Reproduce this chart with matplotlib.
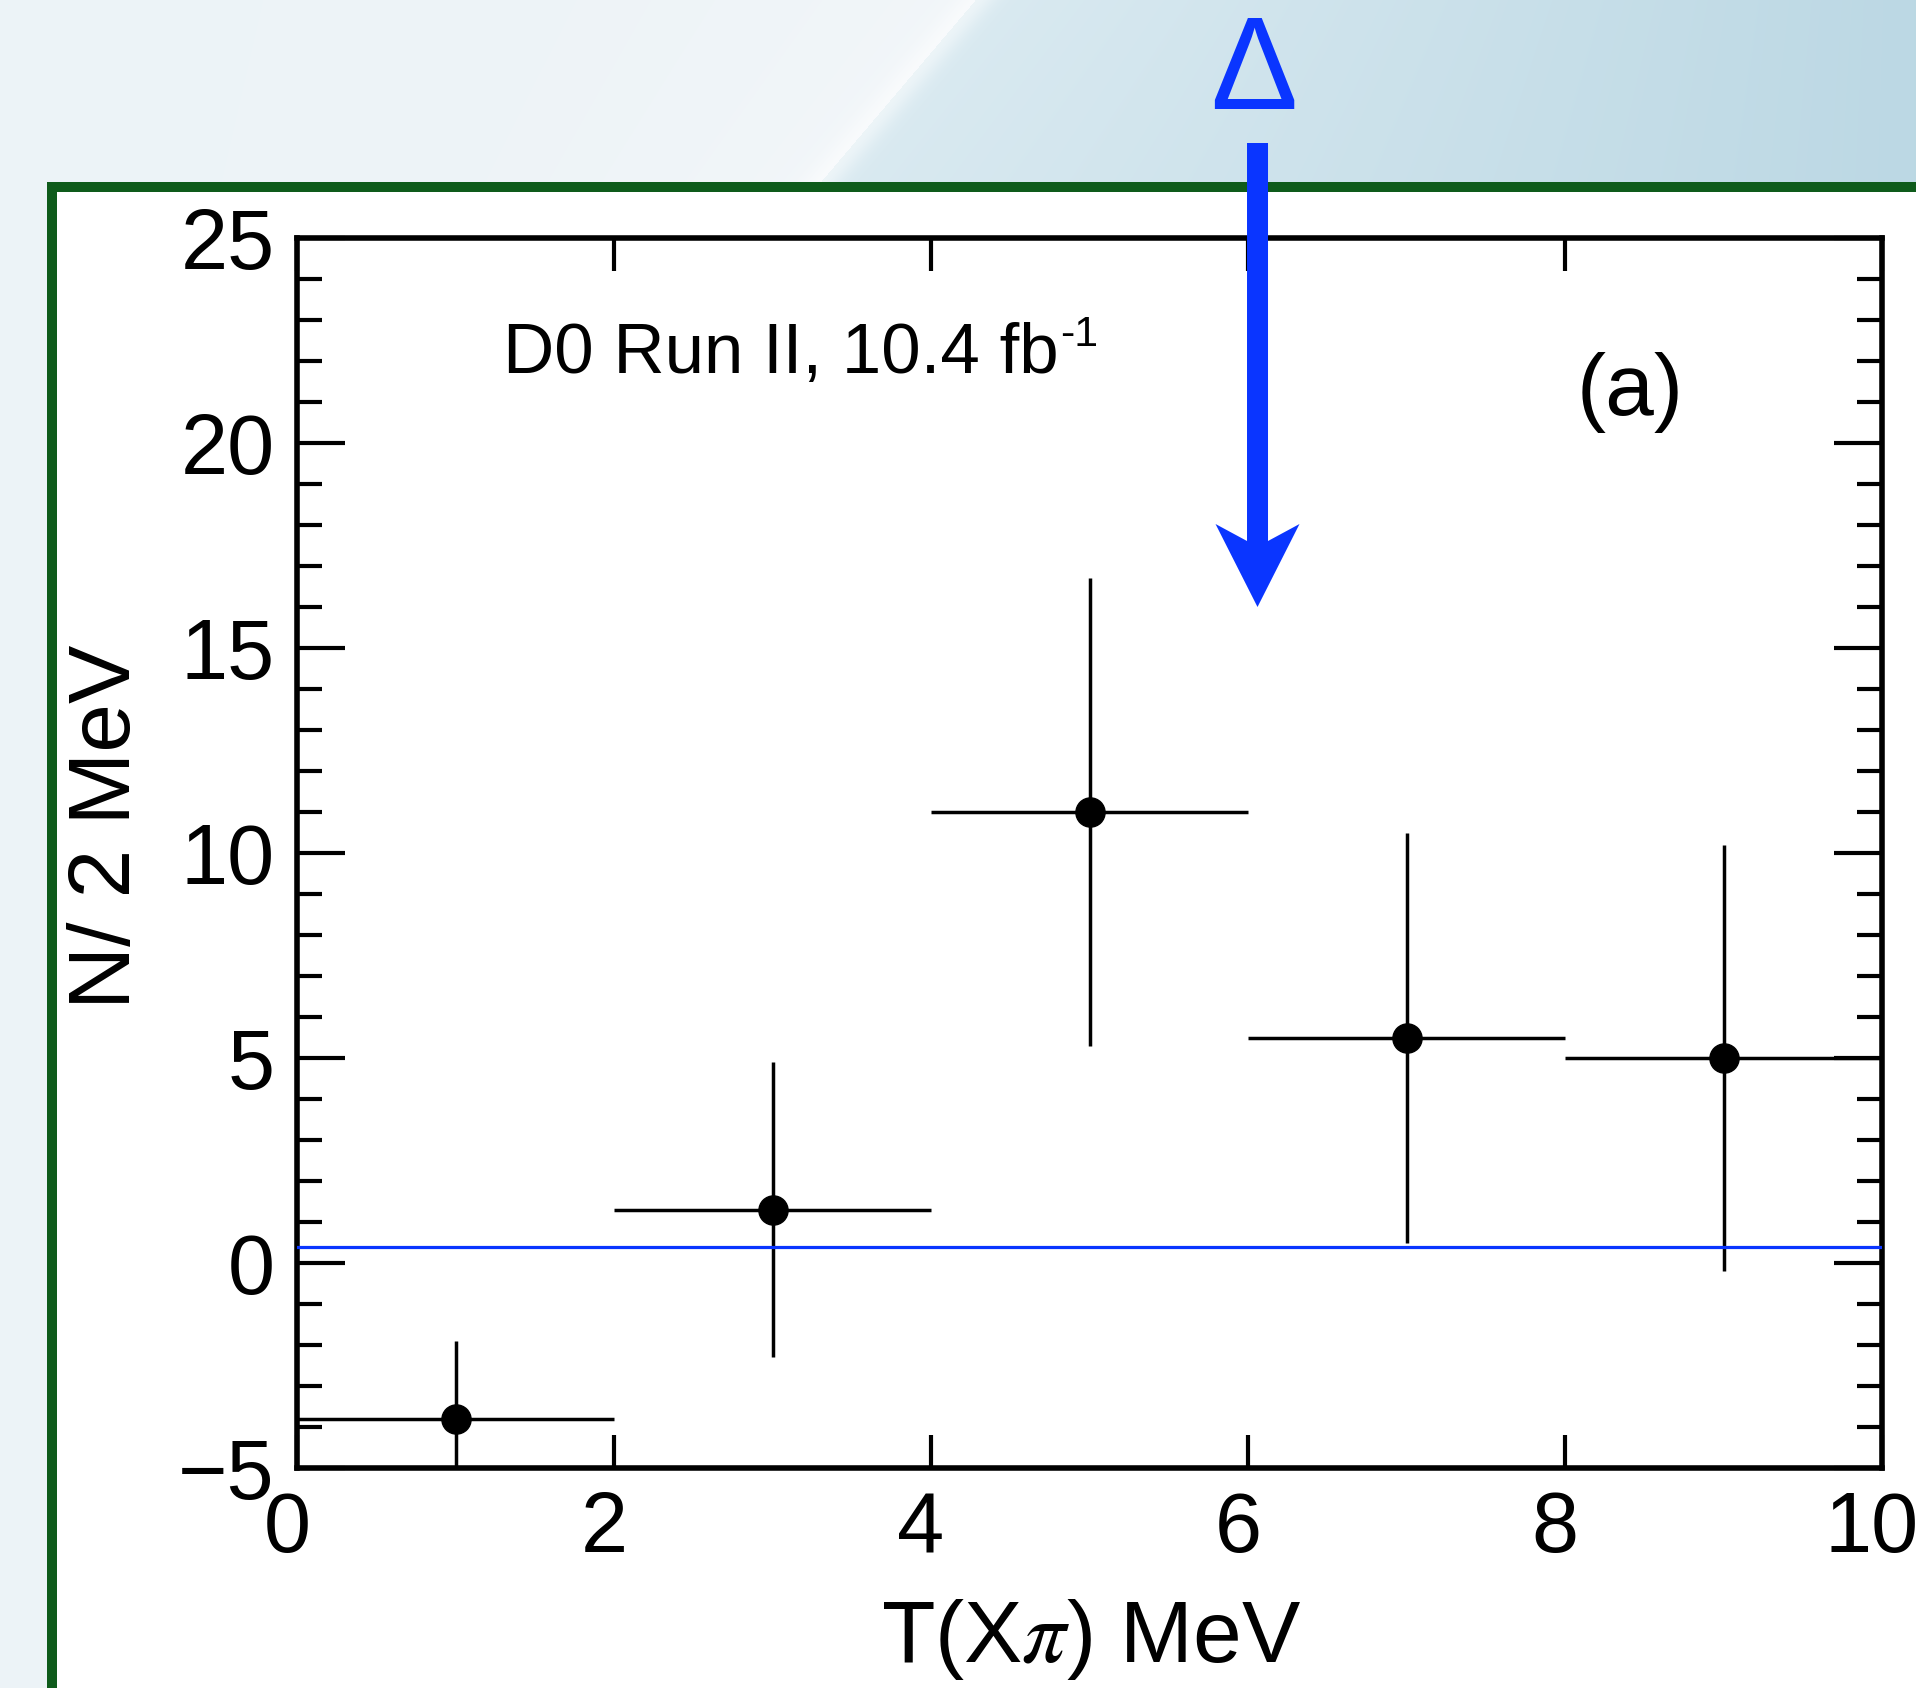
import numpy as np
import matplotlib
matplotlib.use("Agg")
import matplotlib.pyplot as plt
from matplotlib.patches import Rectangle, Polygon
from matplotlib.transforms import IdentityTransform, ScaledTranslation
from matplotlib.ticker import MultipleLocator

plt.rcParams['font.family'] = ['Liberation Sans', 'DejaVu Sans']
plt.rcParams['mathtext.fontset'] = 'custom'
plt.rcParams['mathtext.rm'] = 'Liberation Sans'
plt.rcParams['mathtext.it'] = 'Liberation Sans:italic'
plt.rcParams['mathtext.bf'] = 'Liberation Sans:bold'

# data
t_center = [1, 3, 5, 7, 9]
t_halfwidth = [1, 1, 1, 1, 1]
counts = [-3.8, 1.3, 11.0, 5.5, 5.0]
count_err = [1.9, 3.6, 5.7, 5.0, 5.2]
bkg_level = 0.38
x_range = [0, 10]
y_range = [-5, 25]
arrow_x, arrow_y = 6.06, 16.0

blue = '#0a35ff'
green = '#0e5b1b'

W, H = 1916, 1688
fig = plt.figure(figsize=(W / 100, H / 100), dpi=100)

# slide-like background
bg = fig.add_axes([0, 0, 1, 1], zorder=0)
yy, xx = np.mgrid[0:H, 0:W].astype(float)
xs = 975 - 0.85 * yy
cL = np.array([0.929, 0.953, 0.969])
cL2 = np.array([0.950, 0.966, 0.978])
cS = np.array([0.855, 0.918, 0.945])
cR = np.array([0.737, 0.847, 0.894])
left = (xx < xs) | (yy > 190)
tl = np.clip(xx / np.maximum(xs, 1), 0, 1)[..., None]
tr = np.clip((xx - xs) / (W - xs), 0, 1)[..., None]
img = np.where(left[..., None], cL + (cL2 - cL) * tl ** 3, cS + (cR - cS) * tr)
img = np.where((yy > 190)[..., None], cL, img)
glow = (np.exp(-((xx - xs) / 20.0) ** 2) * (yy < 190))[..., None] * 0.5
img = img + (1 - img) * glow
bg.imshow(np.clip(img, 0, 1), extent=(0, W, H, 0), aspect='auto', interpolation='bilinear')
bg.add_patch(Rectangle((52, 187), 3000, 3000, facecolor='white', edgecolor=green, linewidth=7.2))
bg.set_xlim(0, W)
bg.set_ylim(H, 0)
bg.axis('off')

ax = fig.add_axes([297 / W, (H - 1468) / H, (1882 - 297) / W, (1468 - 238) / H], zorder=1)
ax.errorbar(t_center, counts, xerr=t_halfwidth, yerr=count_err, fmt='o', color='black',
            ms=21, elinewidth=2.5, capsize=0, zorder=2)
ax.axhline(bkg_level, color=blue, lw=2.3, zorder=3)

ax.set_xlim(x_range)
ax.set_ylim(y_range)
ax.xaxis.set_major_locator(MultipleLocator(2))
ax.yaxis.set_major_locator(MultipleLocator(5))
ax.yaxis.set_minor_locator(MultipleLocator(1))
ax.tick_params(which='both', direction='in', top=True, right=True, width=3)
ax.tick_params(axis='y', which='major', length=34.5, pad=16, labelsize=61)
ax.tick_params(axis='y', which='minor', length=18)
ax.tick_params(axis='x', which='major', length=24, pad=16, labelsize=61)
for s in ax.spines.values():
    s.set_linewidth(4)
# ROOT puts the x labels a little left of the ticks
shift = ScaledTranslation(-10 / 100, 0, fig.dpi_scale_trans)
for lab in ax.get_xticklabels():
    lab.set_transform(lab.get_transform() + shift)

lumi = ax.text(0.13, 0.890, 'D0 Run II, 10.4 fb', transform=ax.transAxes,
               fontsize=51, ha='left', va='baseline')
ax.annotate('-1', xy=(1, 1), xycoords=lumi, xytext=(1, 5), textcoords='offset points',
            fontsize=31, ha='left', va='top')
ax.text(0.841, 0.856, '(a)', transform=ax.transAxes, fontsize=63, ha='center', va='baseline')

fig.text(1091 / W, 1 - 1662 / H, r'T(X$\pi$) MeV', fontsize=63, ha='center', va='baseline',
         math_fontfamily='stix')
fig.text(130 / W, 1 - 827 / H, 'N/ 2 MeV', rotation=90, rotation_mode='anchor',
         ha='center', va='baseline', fontsize=63)

# threshold marker
fig.text(1254 / W, 1 - 109 / H, '\u0394', color=blue, fontsize=94, ha='center', va='baseline')
tx, ty = ax.transData.transform((arrow_x, arrow_y))
shape = [(0, 0), (42, 83), (10.5, 66), (10.5, 464), (-10.5, 464), (-10.5, 66), (-42, 83)]
arrow = Polygon([(tx + dx, ty + dy) for dx, dy in shape], closed=True,
                transform=IdentityTransform(), facecolor=blue, edgecolor='none', zorder=5)
fig.add_artist(arrow)

fig.savefig('out.png', dpi=100)
